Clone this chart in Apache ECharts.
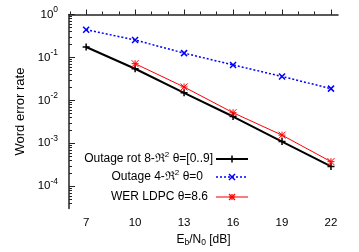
<!DOCTYPE html>
<html>
<head>
<meta charset="utf-8">
<script src="https://cdn.jsdelivr.net/npm/echarts@6/dist/echarts.min.js"></script>
<style>html,body{margin:0;padding:0;background:#fff}#c{width:359px;height:252px}</style>
</head>
<body>
<div id="c"></div>
<script>
// ---- data ----
const ebn0 = [7, 10, 13, 16, 19, 22];
const outageRot8 = [0.175, 0.0545, 0.0150, 0.00421, 0.00110, 0.000289];
const outage4 = [0.443, 0.255, 0.126, 0.067, 0.036, 0.0188];
const werLdpc = [null, 0.0716, 0.0205, 0.00517, 0.00155, 0.000374];
const yTickExponents = [0, -1, -2, -3, -4];
const xTickLabels = [7, 10, 13, 16, 19, 22];
const seriesNames = ['Outage rot 8-ℜ² θ=[0..9]', 'Outage 4-ℜ² θ=0', 'WER LDPC θ=8.6'];

const FONT = '"Liberation Sans", Arial, Helvetica, sans-serif';
const Y_MIN = -4.52, Y_MAX = 0;
const X_MIN = 5.95, X_MAX = 22.43;

function toLog(arr) {
  const out = [];
  arr.forEach((v, i) => { if (v != null) out.push([ebn0[i], Math.log10(v)]); });
  return out;
}
const yMinor = [];
for (let d = -5; d <= -1; d++) for (let k = 2; k <= 9; k++) {
  const v = d + Math.log10(k);
  if (v >= Y_MIN && v <= Y_MAX) yMinor.push(v);
}
const xMinor = [];
for (let v = Math.ceil(X_MIN); v <= Math.floor(X_MAX); v++) xMinor.push(v);

const PLUS = 'path://M0,-1L0,1M-1,0L1,0';
const CROSS = 'path://M-1,-1L1,1M-1,1L1,-1';
const STAR = 'path://M0,-1L0,1M-1,0L1,0M-1,-1L1,1M-1,1L1,-1';

const richLegend = {
  a: {fontSize: 12, fontFamily: FONT, color: '#000'},
  s: {fontSize: 8, fontFamily: FONT, color: '#000', padding: [0, 0, 8, 0]}
};
function legendFmt(name) {
  const parts = name.split('²');
  if (parts.length === 1) return '{a|' + name + '}';
  return '{a|' + parts[0] + '}{s|2}{a|' + parts[1] + '}';
}

// legend drawn as graphic elements (text right-aligned, sample line, marker)
const LEG_X1 = 216, LEG_X2 = 248, LEG_MX = 232;
function markerLines(kind, cx, cy, r, color, w) {
  const segs = [];
  if (kind === 'plus' || kind === 'star') { segs.push([cx, cy - r, cx, cy + r]); segs.push([cx - r, cy, cx + r, cy]); }
  if (kind === 'cross' || kind === 'star') { segs.push([cx - r, cy - r, cx + r, cy + r]); segs.push([cx - r, cy + r, cx + r, cy - r]); }
  return segs.map(s => ({type: 'line', shape: {x1: s[0], y1: s[1], x2: s[2], y2: s[3]}, style: {stroke: color, lineWidth: w}}));
}
function legendRow(name, y, textRight, line, marker) {
  return [
    {type: 'text', x: textRight, y: y, style: {text: legendFmt(name), rich: richLegend, align: 'right', verticalAlign: 'middle', fill: '#000', font: '12px ' + FONT}},
    {type: 'line', shape: {x1: LEG_X1, y1: y, x2: LEG_X2, y2: y}, style: line}
  ].concat(markerLines(marker.kind, LEG_MX, y, marker.r, marker.color, marker.w));
}
const graphics = [].concat(
  legendRow(seriesNames[0], 159, 213, {stroke: '#000', lineWidth: 2}, {kind: 'plus', r: 3.5, color: '#000', w: 1.5}),
  legendRow(seriesNames[1], 177, 203, {stroke: '#0000ff', lineWidth: 1.5, lineDash: [2, 2]}, {kind: 'cross', r: 3, color: '#0000ff', w: 1.5}),
  legendRow(seriesNames[2], 197, 208, {stroke: '#ff7a7a', lineWidth: 2}, {kind: 'star', r: 3, color: '#ff0000', w: 1.2})
);

const axisColor = '#222';
const chart = echarts.init(document.getElementById('c'), null, {renderer: 'canvas'});
chart.setOption({
  animation: false,
  backgroundColor: '#fff',
  grid: {left: 69, right: 21, top: 14.5, bottom: 35.3, containLabel: false},
  graphic: graphics,
  xAxis: [{
    type: 'value', min: X_MIN, max: X_MAX,
    name: '{a|E}{sub|b}{a|/N}{sub|0}{a| [dB]}', nameLocation: 'middle', nameGap: 22,
    nameTextStyle: {rich: {
      a: {fontSize: 12, fontFamily: FONT, color: '#000'},
      sub: {fontSize: 8.5, fontFamily: FONT, color: '#000', padding: [6, 0, 0, 0]}
    }},
    axisLine: {show: true, lineStyle: {color: axisColor, width: 1.5}},
    axisTick: {show: true, inside: true, length: 5, customValues: xTickLabels, lineStyle: {color: axisColor, width: 1}},
    axisLabel: {customValues: xTickLabels, color: '#000', fontSize: 11.5, fontFamily: FONT, margin: 8},
    splitLine: {show: false}
  }, {
    type: 'value', min: X_MIN, max: X_MAX, position: 'bottom',
    axisLine: {show: false},
    axisTick: {show: true, inside: true, length: 3, customValues: xMinor, lineStyle: {color: axisColor, width: 1}},
    axisLabel: {show: false}, splitLine: {show: false}
  }],
  yAxis: [{
    type: 'value', min: Y_MIN, max: Y_MAX,
    name: 'Word error rate', nameLocation: 'middle', nameGap: 39,
    nameTextStyle: {fontSize: 13, fontFamily: FONT, color: '#000'},
    axisLine: {show: true, lineStyle: {color: axisColor, width: 1.5}},
    axisTick: {show: true, inside: true, length: 6, customValues: yTickExponents, lineStyle: {color: axisColor, width: 1}},
    axisLabel: {
      customValues: yTickExponents, margin: 11,
      formatter: v => '{b|10}{s|' + Math.round(v) + '}',
      rich: {
        b: {fontSize: 11.5, fontFamily: FONT, color: '#000'},
        s: {fontSize: 8.5, fontFamily: FONT, color: '#000', padding: [0, 0, 9, 0]}
      }
    },
    splitLine: {show: false}
  }, {
    type: 'value', min: Y_MIN, max: Y_MAX, position: 'left',
    axisLine: {show: false},
    axisTick: {show: true, inside: true, length: 3, customValues: yMinor, lineStyle: {color: axisColor, width: 1}},
    axisLabel: {show: false}, splitLine: {show: false}
  }],
  series: [{
    name: seriesNames[0], type: 'line', data: toLog(outageRot8),
    symbol: PLUS, symbolSize: 7,
    lineStyle: {color: '#000', width: 2},
    itemStyle: {color: '#000', borderColor: '#000', borderWidth: 1.5}
  }, {
    name: seriesNames[1], type: 'line', data: toLog(outage4),
    symbol: CROSS, symbolSize: 6,
    lineStyle: {color: '#0000ff', width: 1.5, type: [2, 2]},
    itemStyle: {color: '#0000ff', borderColor: '#0000ff', borderWidth: 1.5}
  }, {
    name: seriesNames[2], type: 'line', data: toLog(werLdpc),
    symbol: STAR, symbolSize: 7,
    lineStyle: {color: '#ff0000', width: 1},
    itemStyle: {color: '#ff0000', borderColor: '#ff0000', borderWidth: 1}
  }]
});
</script>
</body>
</html>
